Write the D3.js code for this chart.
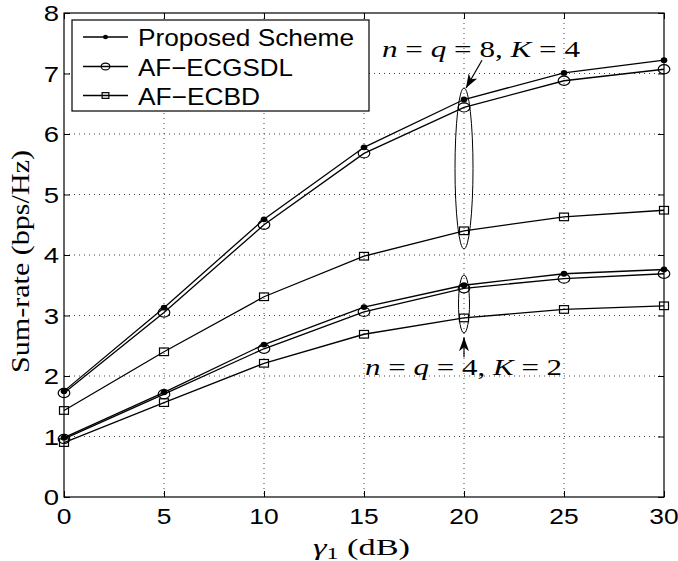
<!DOCTYPE html>
<html>
<head>
<meta charset="utf-8">
<script src="https://cdn.jsdelivr.net/npm/d3@7/dist/d3.min.js"></script>
<style>
  html, body { margin: 0; padding: 0; background: #fff; }
  svg { display: block; }
  .tick-label { font-family: "Liberation Sans", Arial, sans-serif; font-size: 22px; fill: #000; }
  .leg-label { font-family: "Liberation Sans", Arial, sans-serif; font-size: 24px; fill: #000; }
  .math { font-family: "Liberation Serif", "DejaVu Serif", serif; fill: #000; }
</style>
</head>
<body>
<svg id="chart" width="678" height="561"></svg>
<script>
// SNR points (dB)
const gammaDb = [0, 5, 10, 15, 20, 25, 30];

// n = q = 8, K = 4
const proposed8 = [1.75, 3.13, 4.59, 5.78, 6.57, 7.01, 7.22];
const ecgsdl8   = [1.72, 3.05, 4.50, 5.68, 6.44, 6.88, 7.07];
const ecbd8     = [1.43, 2.40, 3.31, 3.98, 4.40, 4.63, 4.74];

// n = q = 4, K = 2
const proposed4 = [0.98, 1.73, 2.52, 3.14, 3.50, 3.69, 3.76];
const ecgsdl4   = [0.96, 1.70, 2.45, 3.06, 3.45, 3.61, 3.69];
const ecbd4     = [0.90, 1.56, 2.21, 2.69, 2.96, 3.10, 3.16];

const xTicks = [0, 5, 10, 15, 20, 25, 30];
const yTicks = [0, 1, 2, 3, 4, 5, 6, 7, 8];

const legendNames = ["Proposed Scheme", "AF\u2212ECGSDL", "AF\u2212ECBD"];
const legendMarkers = ["dot", "circle", "square"];

const series = [
  { values: proposed8, marker: "dot" },
  { values: ecgsdl8,   marker: "circle" },
  { values: ecbd8,     marker: "square" },
  { values: proposed4, marker: "dot" },
  { values: ecgsdl4,   marker: "circle" },
  { values: ecbd4,     marker: "square" }
];

// annotation groups (data coordinates)
const groupEllipses = [
  { x: 20, y0: 4.10, y1: 6.76, rx: 9 },
  { x: 20, y0: 2.71, y1: 3.67, rx: 5.5 }
];
const arrows = [
  { from: [20.9, 7.22], to: [20.1, 6.76] },
  { from: [20.0, 2.31], to: [20.0, 2.64] }
];
const notes = [
  { x: 20.85, y: 7.27, n: "8", k: "4", len: 198 },
  { x: 19.98, y: 2.02, n: "4", k: "2", len: 197 }
];

const svg = d3.select("#chart");
const margin = { top: 13, right: 14, bottom: 64, left: 64 };
const W = 678, H = 561;
const innerW = W - margin.left - margin.right;
const innerH = H - margin.top - margin.bottom;

const x = d3.scaleLinear().domain([0, 30]).range([0, innerW]);
const y = d3.scaleLinear().domain([0, 8]).range([innerH, 0]);

const g = svg.append("g").attr("transform", `translate(${margin.left},${margin.top})`);

// dotted grid
g.append("g")
  .selectAll("line.vg")
  .data(xTicks.slice(1, -1))
  .join("line")
  .attr("x1", d => x(d)).attr("x2", d => x(d))
  .attr("y1", 0).attr("y2", innerH)
  .attr("stroke", "#444").attr("stroke-width", 1).attr("stroke-dasharray", "1,4");
g.append("g")
  .selectAll("line.hg")
  .data(yTicks.slice(1, -1))
  .join("line")
  .attr("y1", d => y(d)).attr("y2", d => y(d))
  .attr("x1", 0).attr("x2", innerW)
  .attr("stroke", "#444").attr("stroke-width", 1).attr("stroke-dasharray", "1,4");

// inward ticks on all four sides
const tl = 6;
const axB = g.append("g").attr("transform", `translate(0,${innerH})`)
  .call(d3.axisBottom(x).tickValues(xTicks).tickSizeInner(-tl).tickSizeOuter(0).tickFormat(""));
const axT = g.append("g")
  .call(d3.axisTop(x).tickValues(xTicks).tickSizeInner(-tl).tickSizeOuter(0).tickFormat(""));
const axL = g.append("g")
  .call(d3.axisLeft(y).tickValues(yTicks).tickSizeInner(-tl).tickSizeOuter(0).tickFormat(""));
const axR = g.append("g").attr("transform", `translate(${innerW},0)`)
  .call(d3.axisRight(y).tickValues(yTicks).tickSizeInner(-tl).tickSizeOuter(0).tickFormat(""));
[axB, axT, axL, axR].forEach(a => {
  a.select(".domain").remove();
  a.selectAll("line").attr("stroke", "#000");
});

g.append("rect")
  .attr("width", innerW).attr("height", innerH)
  .attr("fill", "none").attr("stroke", "#000").attr("stroke-width", 1.2);

// tick labels (the picture is a little wider than tall, so stretch them)
g.append("g").selectAll("text")
  .data(xTicks)
  .join("text")
  .attr("class", "tick-label")
  .attr("text-anchor", "middle")
  .attr("transform", d => `translate(${x(d)},${innerH + 27}) scale(1.2,1)`)
  .text(d => d);
g.append("g").selectAll("text")
  .data(yTicks)
  .join("text")
  .attr("class", "tick-label")
  .attr("text-anchor", "end")
  .attr("transform", d => `translate(-5,${y(d) + 8}) scale(1.25,1)`)
  .text(d => d);

// markers
function drawMarker(sel, type, cx, cy, scale) {
  const s = scale || 1;
  if (type === "dot") {
    sel.append("ellipse").attr("cx", cx).attr("cy", cy).attr("rx", 3.3 * s).attr("ry", 2.9 * s).attr("fill", "#000");
  } else if (type === "circle") {
    sel.append("ellipse").attr("cx", cx).attr("cy", cy).attr("rx", 5.8 * s).attr("ry", 4.6 * s)
      .attr("fill", "none").attr("stroke", "#000").attr("stroke-width", 1.2);
  } else {
    sel.append("rect").attr("x", cx - 4.5 * s).attr("y", cy - 3.8 * s)
      .attr("width", 9 * s).attr("height", 7.6 * s)
      .attr("fill", "none").attr("stroke", "#000").attr("stroke-width", 1.2);
  }
}

const line = d3.line().x((d, i) => x(gammaDb[i])).y(d => y(d));
series.forEach(s => {
  g.append("path").datum(s.values)
    .attr("d", line).attr("fill", "none").attr("stroke", "#000").attr("stroke-width", 1.3);
  const mg = g.append("g");
  s.values.forEach((v, i) => drawMarker(mg, s.marker, x(gammaDb[i]), y(v)));
});

// group ellipses
g.append("g").selectAll("ellipse")
  .data(groupEllipses)
  .join("ellipse")
  .attr("cx", d => x(d.x))
  .attr("cy", d => (y(d.y0) + y(d.y1)) / 2)
  .attr("rx", d => d.rx)
  .attr("ry", d => (y(d.y0) - y(d.y1)) / 2)
  .attr("fill", "none").attr("stroke", "#000").attr("stroke-width", 1);

// arrows
svg.append("defs").append("marker")
  .attr("id", "ah").attr("viewBox", "0 0 14 10").attr("refX", 14).attr("refY", 5)
  .attr("markerWidth", 14).attr("markerHeight", 10).attr("markerUnits", "userSpaceOnUse")
  .attr("orient", "auto")
  .append("path").attr("d", "M0,0 L14,5 L0,10 L4,5 Z").attr("fill", "#000");
g.append("g").selectAll("line")
  .data(arrows)
  .join("line")
  .attr("x1", d => x(d.from[0])).attr("y1", d => y(d.from[1]))
  .attr("x2", d => x(d.to[0])).attr("y2", d => y(d.to[1]))
  .attr("stroke", "#000").attr("stroke-width", 1.2)
  .attr("marker-end", "url(#ah)");

// math notes: n = q = 8, K = 4
notes.forEach(nt => {
  const t = g.append("text").attr("class", "math")
    .attr("x", x(nt.x) - nt.len / 2).attr("y", y(nt.y))
    .attr("font-size", 23)
    .attr("textLength", nt.len).attr("lengthAdjust", "spacingAndGlyphs");
  t.append("tspan").attr("font-style", "italic").text("n");
  t.append("tspan").text(" = ");
  t.append("tspan").attr("font-style", "italic").text("q");
  t.append("tspan").text(` = ${nt.n}, `);
  t.append("tspan").attr("font-style", "italic").text("K");
  t.append("tspan").text(` = ${nt.k}`);
});

// legend
const leg = svg.append("g");
leg.append("rect").attr("x", 72).attr("y", 20).attr("width", 297).attr("height", 91)
  .attr("fill", "#fff").attr("stroke", "#000").attr("stroke-width", 1.2);
const legRows = [37, 66.5, 95.5];
const legLens = [216, 155, 122];
legendNames.forEach((name, i) => {
  const cy = legRows[i];
  leg.append("line").attr("x1", 83).attr("x2", 128).attr("y1", cy).attr("y2", cy)
    .attr("stroke", "#000").attr("stroke-width", 1.3);
  drawMarker(leg, legendMarkers[i], 105.5, cy, 0.75);
  leg.append("text").attr("class", "leg-label")
    .attr("x", 138).attr("y", cy + 9)
    .attr("textLength", legLens[i]).attr("lengthAdjust", "spacingAndGlyphs")
    .text(name);
});

// axis titles
const xt = svg.append("text").attr("class", "math")
  .attr("x", 313).attr("y", 555).attr("font-size", 23)
  .attr("textLength", 97).attr("lengthAdjust", "spacingAndGlyphs");
xt.append("tspan").attr("font-style", "italic").text("\u03b3");
xt.append("tspan").attr("font-size", 16).attr("dy", 4).text("1");
xt.append("tspan").attr("dy", -4).text(" (dB)");

svg.append("text").attr("class", "math")
  .attr("transform", "translate(29,261.5) rotate(-90)")
  .attr("text-anchor", "middle").attr("font-size", 26)
  .attr("textLength", 223).attr("lengthAdjust", "spacingAndGlyphs")
  .text("Sum-rate (bps/Hz)");
</script>
</body>
</html>
